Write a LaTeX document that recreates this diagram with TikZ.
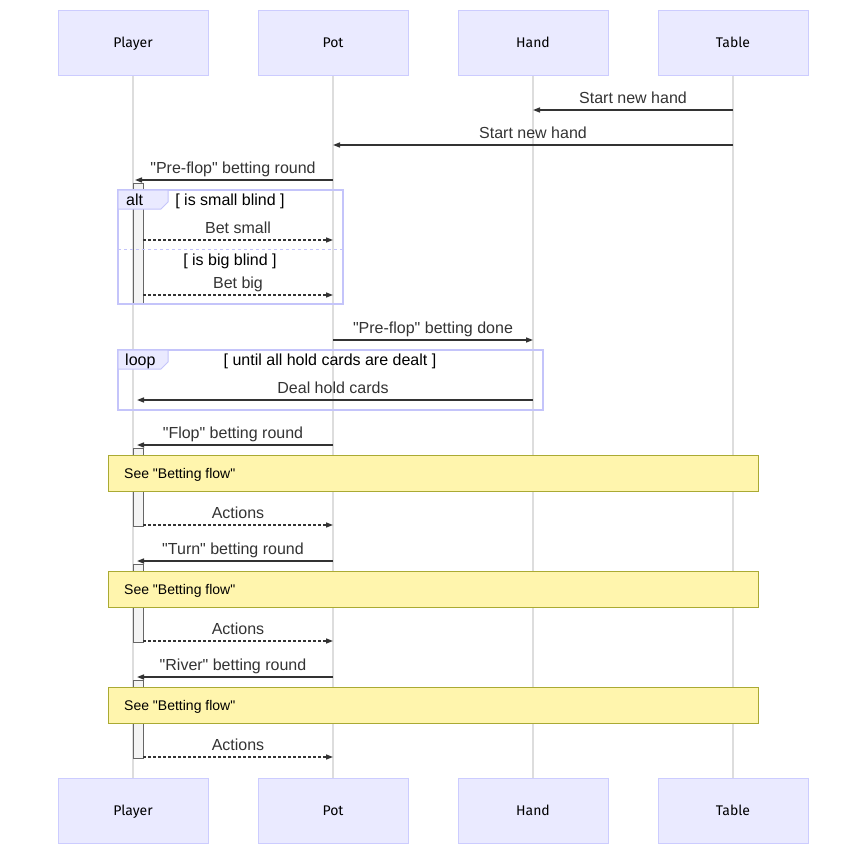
\documentclass[tikz,border=0pt]{standalone}
\usepackage{fontspec}
\setmainfont{Liberation Sans}
\newfontfamily\labelfont{Liberation Sans}
\newfontfamily\actorfont{Fira Sans}
\usetikzlibrary{arrows.meta}

\definecolor{actorfill}{HTML}{EAEAFF}
\definecolor{actorline}{HTML}{CCCCFF}
\definecolor{frameline}{HTML}{C4C4FA}
\definecolor{lifegray}{HTML}{DDDDDD}
\definecolor{msgline}{HTML}{333333}
\definecolor{actfill}{HTML}{F4F4F4}
\definecolor{actline}{HTML}{666666}
\definecolor{notefill}{HTML}{FFF5AD}
\definecolor{noteline}{HTML}{AAAA33}

\begin{document}
\begin{tikzpicture}[x=1pt,y=-1pt,
  actor/.style={draw=actorline,fill=actorfill,line width=1pt,minimum width=150pt,
    minimum height=65pt,inner sep=0pt,text height=10pt,text depth=0pt,
    font=\actorfont\fontsize{14}{16}\selectfont},
  lifeline/.style={draw=lifegray,line width=2pt},
  msg/.style={draw=msgline,line width=1.5pt,-{Triangle[length=7pt,width=5pt]}},
  reply/.style={msg,line width=1.4pt,dash pattern=on 3pt off 2pt},
  lbl/.style={text=msgline,font=\labelfont\fontsize{16}{19}\selectfont,inner sep=0pt,
    text height=12pt,text depth=3.5pt,yshift=11pt},
  cond/.style={text=black,font=\labelfont\fontsize{16}{19}\selectfont,inner sep=0pt,
    text height=12pt,text depth=3.5pt},
  frame/.style={draw=frameline,line width=2pt},
  tag/.style={draw=frameline,fill=actorfill,line width=1pt},
  act/.style={draw=actline,fill=actfill,line width=1pt},
  note/.style={draw=noteline,fill=notefill,line width=1pt,minimum width=650pt,
    minimum height=36pt,inner sep=0pt},
  notetext/.style={font=\labelfont\fontsize{14}{17}\selectfont,inner sep=0pt,anchor=base west}
]
  \useasboundingbox (0,0) rectangle (850,854);

  % Actors and lifelines
  \foreach \name/\lab/\x in {player/Player/133,pot/Pot/333,hand/Hand/533,table/Table/733}{
    \node[actor] (\name-top) at (\x,42.5) {\lab};
    \node[actor] (\name-bot) at (\x,810.5) {\lab};
    \draw[lifeline] (\name-top) -- (\name-bot);
  }

  % New hand
  \draw[msg] (table-top |- 0,110) -- node[lbl] (m1) {Start new hand} (hand-top |- 0,110);
  \draw[msg] (table-top |- 0,145) -- node[lbl] (m2) {Start new hand} (pot-top |- 0,145);
  \draw[msg,shorten >=2pt] (pot-top |- 0,180) -- node[lbl] (m3) {"Pre-flop" betting round} (player-top |- 0,180);

  % Blinds
  \draw[act] (133,183) rectangle (143,304);
  \draw[frame] (118,190) rectangle (343,304);
  \draw[tag] (118,190) -- (168,190) -- (168,202) -- (161,209) -- (118,209) -- cycle;
  \node[cond,anchor=west] (alt) at (126,201) {alt};
  \node[cond] (small) at (230,201) {[ is small blind ]};
  \draw[draw=frameline,line width=1pt,dash pattern=on 3pt off 3pt] (118,249) -- (343,249);
  \node[cond] (big) at (230,261.5) {[ is big blind ]};
  \draw[reply] ([xshift=10pt]player-top.center |- 0,240) -- node[lbl] (m4) {Bet small} (pot-top |- 0,240);
  \draw[reply] ([xshift=10pt]player-top.center |- 0,295) -- node[lbl] (m5) {Bet big} (pot-top |- 0,295);

  % Hold cards
  \draw[msg] (pot-top |- 0,340) -- node[lbl] (m6) {"Pre-flop" betting done} (hand-top |- 0,340);
  \draw[frame] (118,350) rectangle (543,410);
  \draw[tag] (118,350) -- (168,350) -- (168,362) -- (161,369) -- (118,369) -- cycle;
  \node[cond,anchor=west] (loop) at (125,361) {loop};
  \node[cond] (until) at (330,361) {[ until all hold cards are dealt ]};
  \draw[msg,shorten >=4pt] (hand-top |- 0,400) -- node[lbl] (m7) {Deal hold cards} (player-top |- 0,400);

  % Betting rounds
  \foreach \rnd/\y in {Flop/445,Turn/561,River/677}{
    \draw[msg,shorten >=4pt] (pot-top |- 0,\y) -- node[lbl] (\rnd-msg) {"\rnd" betting round} (player-top |- 0,\y);
    \draw[act] (133,\y+3) rectangle (143,\y+81);
    \node[note] (\rnd-note) at (433,\y+28) {};
    \node[notetext] (\rnd-see) at (124,\y+33.5) {See "Betting flow"};
    \draw[reply] ([xshift=10pt]player-top.center |- 0,\y+80) -- node[lbl] (\rnd-act) {Actions} (pot-top |- 0,\y+80);
  }
\end{tikzpicture}
\end{document}
